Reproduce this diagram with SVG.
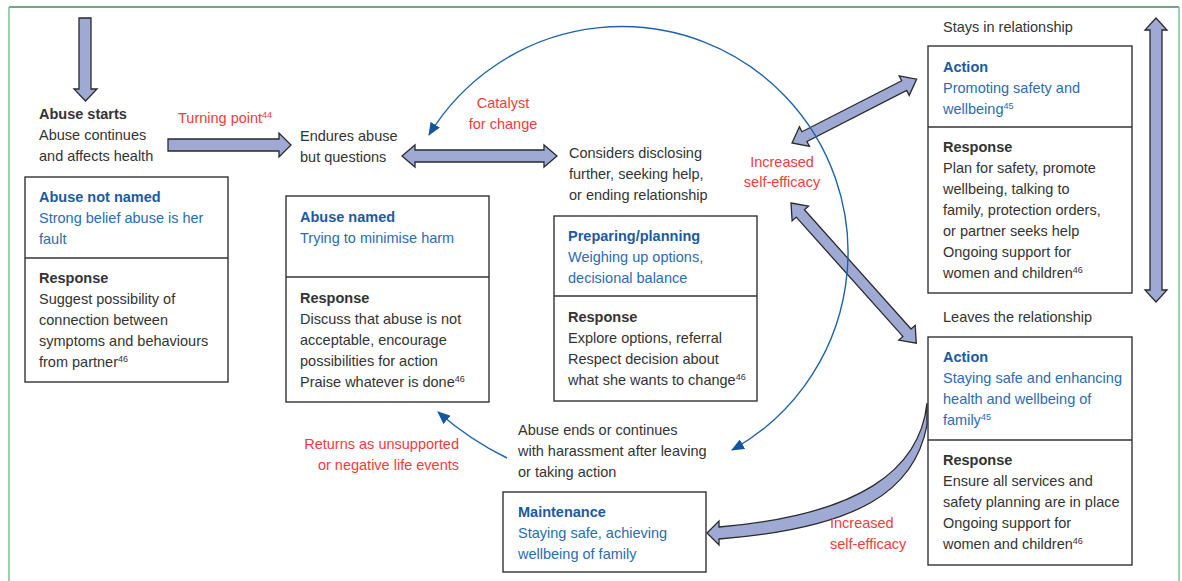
<svg xmlns="http://www.w3.org/2000/svg" width="1182" height="581" viewBox="0 0 1182 581">
<style>
.t{font-family:"Liberation Sans",Arial,sans-serif;font-size:14.5px;fill:#333}
.h{font-weight:bold}
.bh{fill:#1b5aa3;font-weight:bold}
.b{fill:#2a6cb3}
.r{fill:#f03c3c}
.m{text-anchor:middle}
.e{text-anchor:end}
.sup{font-size:9px}
.box{fill:#fff;stroke:#333;stroke-width:1.4}
.ba{fill:#9eaad3;stroke:#2a2a2a;stroke-width:1.3}
.arc{fill:none;stroke:#1f62ab;stroke-width:1.4}
</style>
<defs>
<marker id="ah" viewBox="0 0 13 11" refX="12" refY="5.5" markerWidth="13" markerHeight="11" markerUnits="userSpaceOnUse" orient="auto-start-reverse">
<path d="M0,0 L13,5.5 L0,11 z" fill="#1556a0"/>
</marker>
</defs>
<rect width="1182" height="581" fill="#fff"/>
<g id="frame">
<line x1="9" y1="7" x2="1179" y2="7" stroke="#3f8a5f" stroke-width="1.3"/>
<line x1="9" y1="7" x2="9" y2="581" stroke="#7cbf95" stroke-width="1.5"/>
<line x1="1179" y1="7" x2="1179" y2="581" stroke="#7cbf95" stroke-width="1.5"/>
</g>
<g id="connectors">
<polygon class="ba" points="79,18 91,18 91,89 97,89 85.5,101 74,89 79,89"/>
<polygon class="ba" points="168,139 279,139 279,133 291,145 279,157 279,151 168,151"/>
<polygon class="ba" transform="translate(402,156)" points="0,0 13,-11 13,-6 142,-6 142,-11 155,0 142,11 142,6 13,6 13,11"/>
<polygon class="ba" transform="translate(792,143) rotate(-27.1)" points="0,0 14,-11 14,-5.5 126,-5.5 126,-11 140,0 126,11 126,5.5 14,5.5 14,11"/>
<polygon class="ba" transform="translate(791,203) rotate(48.2)" points="0,0 14,-11 14,-5.5 174,-5.5 174,-11 188,0 174,11 174,5.5 14,5.5 14,11"/>
<polygon class="ba" transform="translate(1156,18) rotate(90)" points="0,0 12,-11 12,-6 272,-6 272,-11 284,0 272,11 272,6 12,6 12,11"/>
<path class="ba" d="M927,403 C920,470 860,515 719,527 L719,521 L707,533 L719,545 L719,539 C860,528 915,490 927,425 Z"/>
<path class="arc" d="M732,450 A226,226 0 1 0 429,135" marker-start="url(#ah)" marker-end="url(#ah)"/>
<path class="arc" d="M507,458 Q470,440 438,412" marker-end="url(#ah)"/>
</g>
<g id="labels">
<text class="t r" x="178" y="123">Turning point<tspan class="sup" dy="-5">44</tspan></text>
<text class="t r m" x="503" y="108">Catalyst</text>
<text class="t r m" x="503" y="129">for change</text>
<text class="t r m" x="782" y="167">Increased</text>
<text class="t r m" x="782" y="187">self-efficacy</text>
<text class="t r e" x="459" y="449">Returns as unsupported</text>
<text class="t r e" x="459" y="470">or negative life events</text>
<text class="t r" x="830" y="528">Increased</text>
<text class="t r" x="830" y="549">self-efficacy</text>
</g>
<g id="abuse-starts">
<text class="t h" x="39" y="119">Abuse starts</text>
<text class="t" x="39" y="140">Abuse continues</text>
<text class="t" x="39" y="161">and affects health</text>
</g>
<g id="endures">
<text class="t" x="300" y="141">Endures abuse</text>
<text class="t" x="300" y="162">but questions</text>
</g>
<g id="considers">
<text class="t" x="569" y="158">Considers disclosing</text>
<text class="t" x="569" y="179">further, seeking help,</text>
<text class="t" x="569" y="200">or ending relationship</text>
</g>
<g id="abuse-ends">
<text class="t" x="518" y="435">Abuse ends or continues</text>
<text class="t" x="518" y="456">with harassment after leaving</text>
<text class="t" x="518" y="477">or taking action</text>
</g>
<g id="abuse-not-named">
<rect class="box" x="25" y="177" width="203" height="205"/>
<line x1="25" y1="258" x2="228" y2="258" stroke="#333" stroke-width="1.4"/>
<text class="t bh" x="39" y="202">Abuse not named</text>
<text class="t b" x="39" y="223">Strong belief abuse is her</text>
<text class="t b" x="39" y="244">fault</text>
<text class="t h" x="39" y="283">Response</text>
<text class="t" x="39" y="304">Suggest possibility of</text>
<text class="t" x="39" y="325">connection between</text>
<text class="t" x="39" y="346">symptoms and behaviours</text>
<text class="t" x="39" y="367">from partner<tspan class="sup" dy="-5">46</tspan></text>
</g>
<g id="abuse-named">
<rect class="box" x="286" y="196" width="203" height="206"/>
<line x1="286" y1="277" x2="489" y2="277" stroke="#333" stroke-width="1.4"/>
<text class="t bh" x="300" y="222">Abuse named</text>
<text class="t b" x="300" y="243">Trying to minimise harm</text>
<text class="t h" x="300" y="303">Response</text>
<text class="t" x="300" y="324">Discuss that abuse is not</text>
<text class="t" x="300" y="345">acceptable, encourage</text>
<text class="t" x="300" y="366">possibilities for action</text>
<text class="t" x="300" y="387">Praise whatever is done<tspan class="sup" dy="-5">46</tspan></text>
</g>
<g id="preparing">
<rect class="box" x="554" y="216" width="203" height="185"/>
<line x1="554" y1="296" x2="757" y2="296" stroke="#333" stroke-width="1.4"/>
<text class="t bh" x="568" y="241">Preparing/planning</text>
<text class="t b" x="568" y="262">Weighing up options,</text>
<text class="t b" x="568" y="283">decisional balance</text>
<text class="t h" x="568" y="322">Response</text>
<text class="t" x="568" y="343">Explore options, referral</text>
<text class="t" x="568" y="364">Respect decision about</text>
<text class="t" x="568" y="385">what she wants to change<tspan class="sup" dy="-5">46</tspan></text>
</g>
<g id="stays">
<text class="t" x="943" y="32">Stays in relationship</text>
<rect class="box" x="928" y="46" width="204" height="247"/>
<line x1="928" y1="127" x2="1132" y2="127" stroke="#333" stroke-width="1.4"/>
<text class="t bh" x="943" y="72">Action</text>
<text class="t b" x="943" y="93">Promoting safety and</text>
<text class="t b" x="943" y="114">wellbeing<tspan class="sup" dy="-5">45</tspan></text>
<text class="t h" x="943" y="152">Response</text>
<text class="t" x="943" y="173">Plan for safety, promote</text>
<text class="t" x="943" y="194">wellbeing, talking to</text>
<text class="t" x="943" y="215">family, protection orders,</text>
<text class="t" x="943" y="236">or partner seeks help</text>
<text class="t" x="943" y="257">Ongoing support for</text>
<text class="t" x="943" y="278">women and children<tspan class="sup" dy="-5">46</tspan></text>
</g>
<g id="leaves">
<text class="t" x="943" y="322">Leaves the relationship</text>
<rect class="box" x="928" y="337" width="204" height="228"/>
<line x1="928" y1="440" x2="1132" y2="440" stroke="#333" stroke-width="1.4"/>
<text class="t bh" x="943" y="362">Action</text>
<text class="t b" x="943" y="383">Staying safe and enhancing</text>
<text class="t b" x="943" y="404">health and wellbeing of</text>
<text class="t b" x="943" y="425">family<tspan class="sup" dy="-5">45</tspan></text>
<text class="t h" x="943" y="465">Response</text>
<text class="t" x="943" y="486">Ensure all services and</text>
<text class="t" x="943" y="507">safety planning are in place</text>
<text class="t" x="943" y="528">Ongoing support for</text>
<text class="t" x="943" y="549">women and children<tspan class="sup" dy="-5">46</tspan></text>
</g>
<g id="maintenance">
<rect class="box" x="503" y="492" width="203" height="80"/>
<text class="t bh" x="518" y="517">Maintenance</text>
<text class="t b" x="518" y="538">Staying safe, achieving</text>
<text class="t b" x="518" y="559">wellbeing of family</text>
</g>
</svg>
